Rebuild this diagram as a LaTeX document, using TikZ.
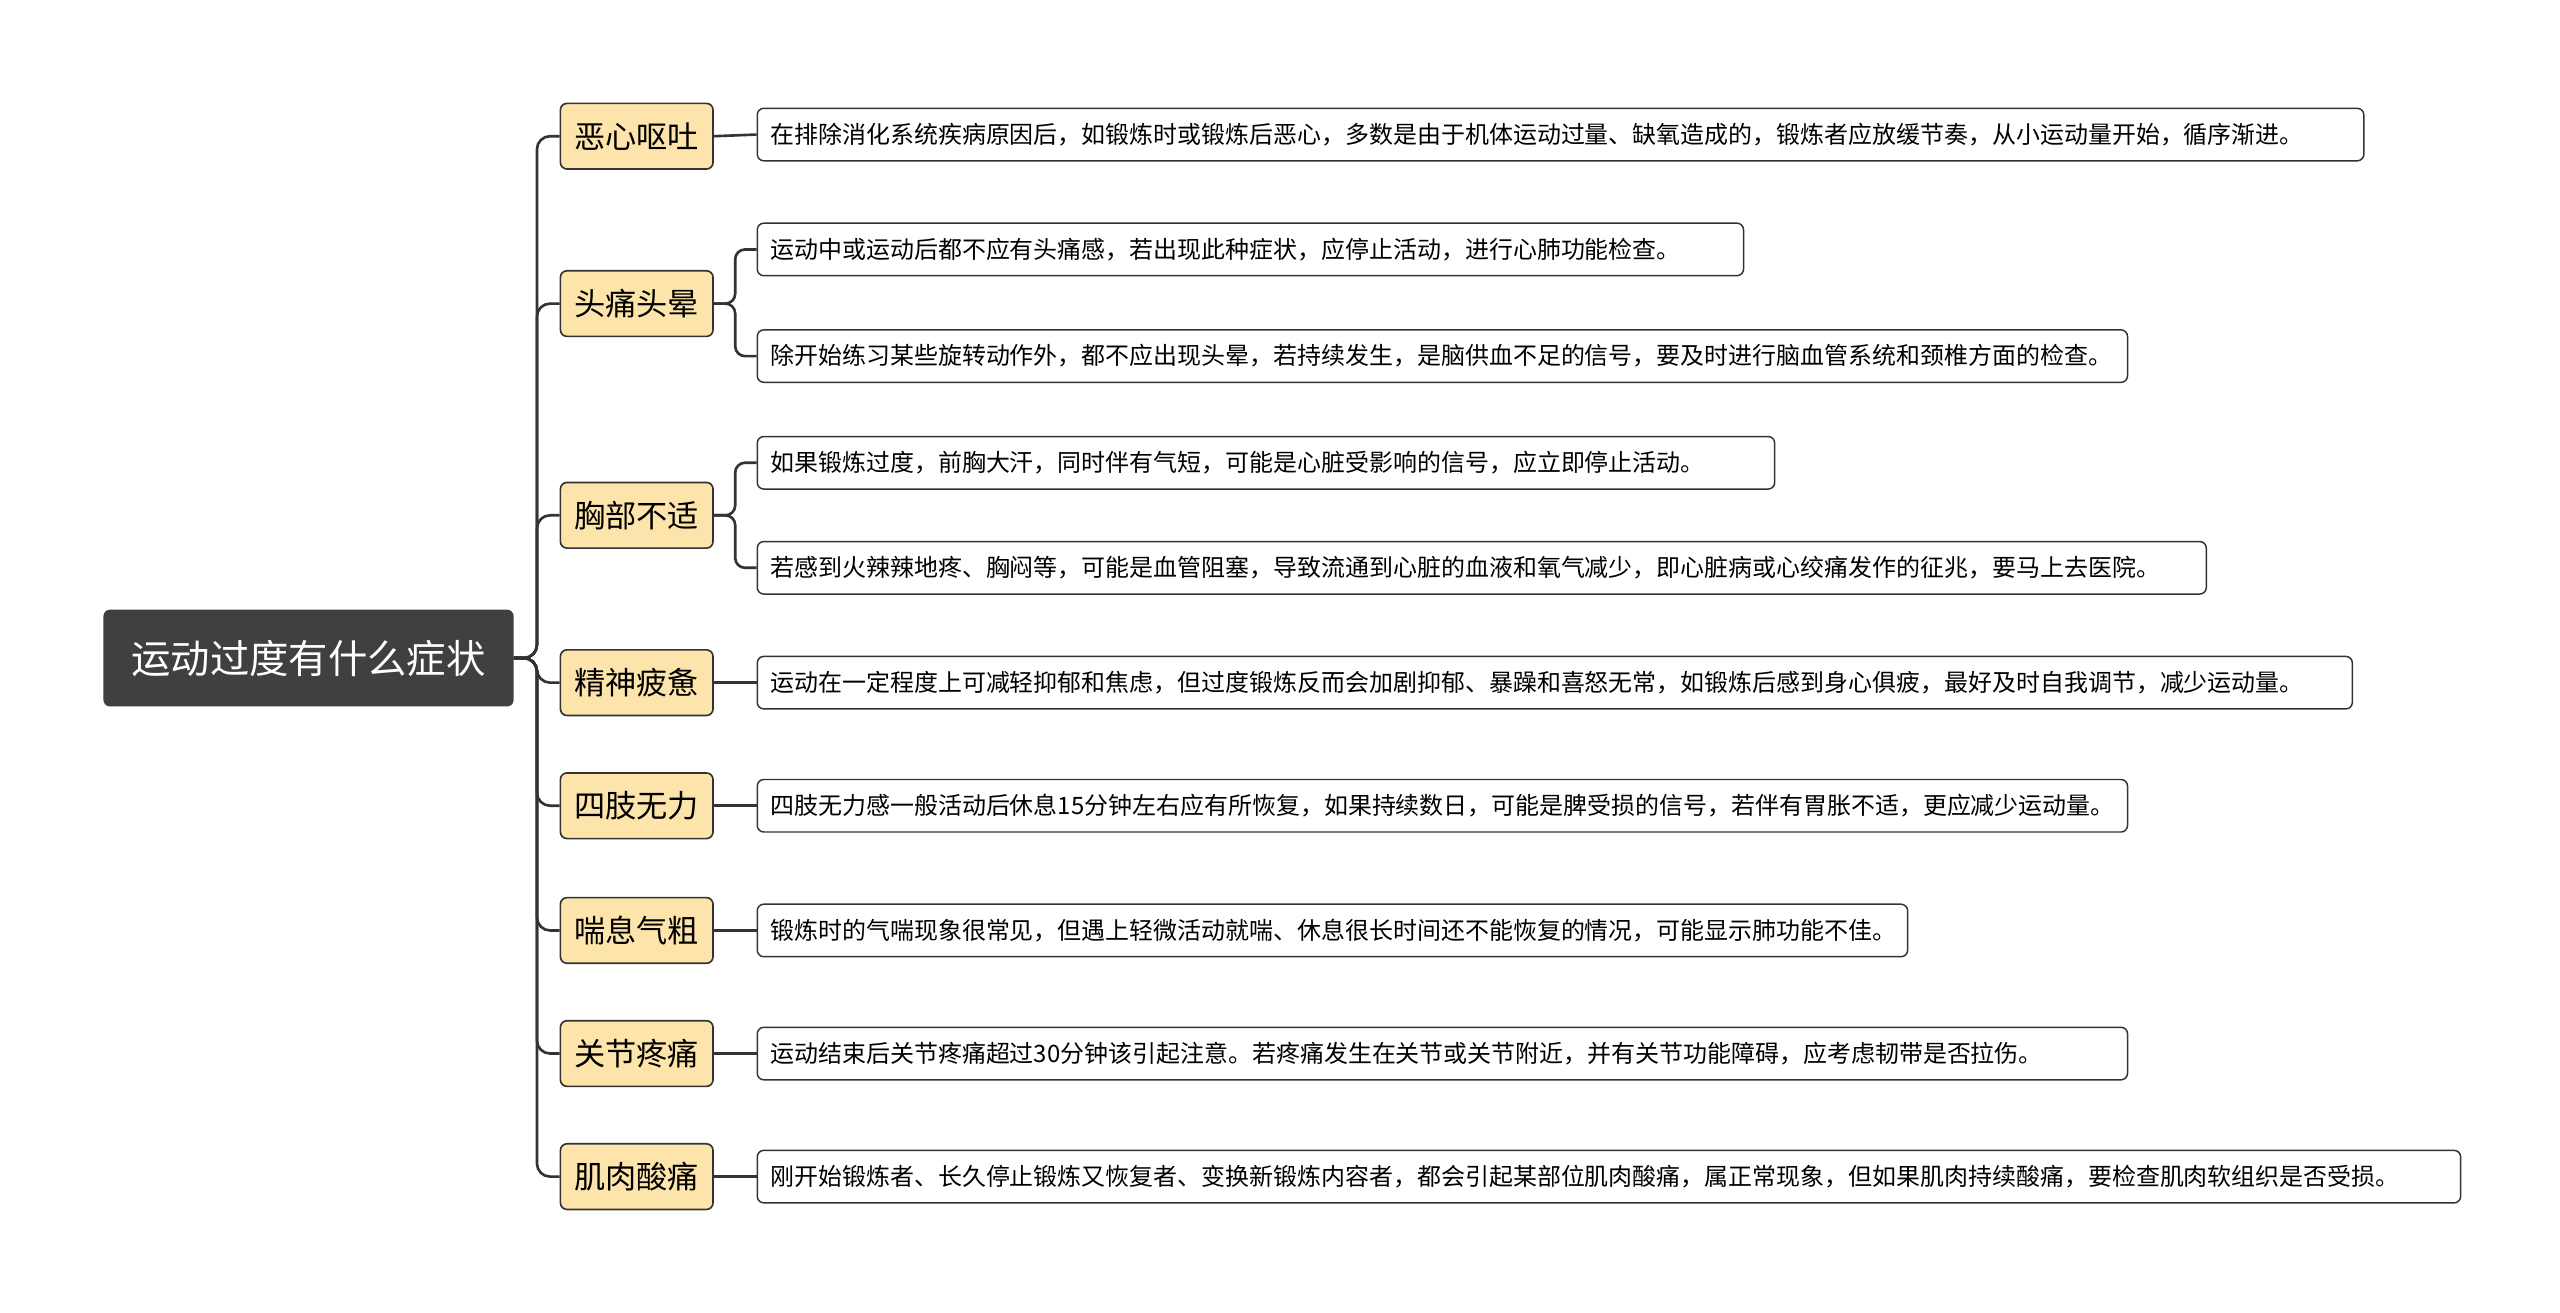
\documentclass[tikz,border=0pt]{standalone}
\usepackage{fontspec}
\setmainfont{Noto Sans CJK SC}
\definecolor{lfill}{RGB}{252,228,170}
\begin{document}
\begin{tikzpicture}[x=1pt,y=-1pt,
  rootbox/.style={draw=none,fill=black!75,rounded corners=4,text=white,font=\fontsize{24}{28}\selectfont,minimum width=250,minimum height=59,inner sep=0},
  lone/.style={draw=black!80,line width=1pt,fill=lfill,rounded corners=4,font=\fontsize{19}{22}\selectfont,minimum width=93,minimum height=40,inner sep=0,anchor=west},
  ltwo/.style={draw=black!80,line width=0.9pt,fill=white,rounded corners=4,font=\fontsize{14.6}{18}\selectfont,minimum height=32,inner sep=0,anchor=west,text width=#1-22,align=left,inner xsep=8},
  link/.style={draw=black!80,line width=1.6pt,rounded corners=8}]
\useasboundingbox (0,0) rectangle (1560,800);
\fill[white] (0,0) rectangle (1560,800);
\node[rootbox] (root) at (188,401) {运动过度有什么症状};
\node[lone] (a) at (341,83) {恶心呕吐};
\node[lone] (b) at (341,185) {头痛头晕};
\node[lone] (c) at (341,314) {胸部不适};
\node[lone] (d) at (341,416) {精神疲惫};
\node[lone] (e) at (341,491) {四肢无力};
\node[lone] (f) at (341,567) {喘息气粗};
\node[lone] (g) at (341,642) {关节疼痛};
\node[lone] (h) at (341,717) {肌肉酸痛};
\node[ltwo=985] (a1) at (461,82) {在排除消化系统疾病原因后，如锻炼时或锻炼后恶心，多数是由于机体运动过量、缺氧造成的，锻炼者应放缓节奏，从小运动量开始，循序渐进。};
\node[ltwo=607] (b1) at (461,152) {运动中或运动后都不应有头痛感，若出现此种症状，应停止活动，进行心肺功能检查。};
\node[ltwo=841] (b2) at (461,217) {除开始练习某些旋转动作外，都不应出现头晕，若持续发生，是脑供血不足的信号，要及时进行脑血管系统和颈椎方面的检查。};
\node[ltwo=626] (c1) at (461,282) {如果锻炼过度，前胸大汗，同时伴有气短，可能是心脏受影响的信号，应立即停止活动。};
\node[ltwo=889] (c2) at (461,346) {若感到火辣辣地疼、胸闷等，可能是血管阻塞，导致流通到心脏的血液和氧气减少，即心脏病或心绞痛发作的征兆，要马上去医院。};
\node[ltwo=978] (d1) at (461,416) {运动在一定程度上可减轻抑郁和焦虑，但过度锻炼反而会加剧抑郁、暴躁和喜怒无常，如锻炼后感到身心俱疲，最好及时自我调节，减少运动量。};
\node[ltwo=841] (e1) at (461,491) {四肢无力感一般活动后休息15分钟左右应有所恢复，如果持续数日，可能是脾受损的信号，若伴有胃胀不适，更应减少运动量。};
\node[ltwo=707] (f1) at (461,567) {锻炼时的气喘现象很常见，但遇上轻微活动就喘、休息很长时间还不能恢复的情况，可能显示肺功能不佳。};
\node[ltwo=841] (g1) at (461,642) {运动结束后关节疼痛超过30分钟该引起注意。若疼痛发生在关节或关节附近，并有关节功能障碍，应考虑韧带是否拉伤。};
\node[ltwo=1044] (h1) at (461,717) {刚开始锻炼者、长久停止锻炼又恢复者、变换新锻炼内容者，都会引起某部位肌肉酸痛，属正常现象，但如果肌肉持续酸痛，要检查肌肉软组织是否受损。};
\foreach \n in {a,b,c,d,e,f,g,h}
  \draw[link] (root.east) -- ++(14,0) |- (\n.west);
\foreach \p/\q in {a/a1,d/d1,e/e1,f/f1,g/g1,h/h1}
  \draw[link] (\p.east) -- (\q.west);
\foreach \p/\q in {b/b1,b/b2,c/c1,c/c2}
  \draw[link,rounded corners=6] (\p.east) -- ++(13,0) |- (\q.west);
\end{tikzpicture}
\end{document}
